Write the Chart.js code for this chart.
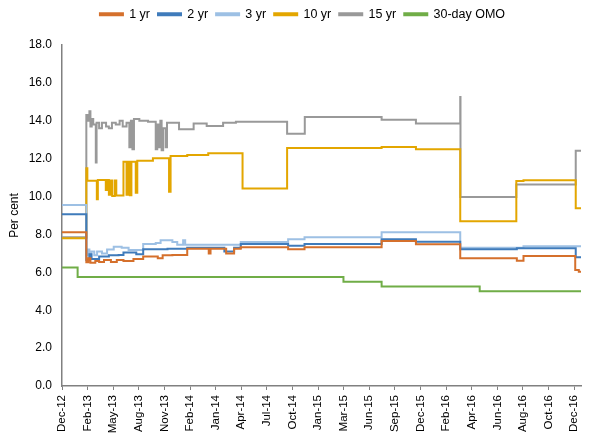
<!DOCTYPE html>
<html>
<head>
<meta charset="utf-8">
<script src="https://cdn.jsdelivr.net/npm/chart.js@4.4.1/dist/chart.umd.min.js"></script>
<style>
    html, body { margin: 0; padding: 0; background: #fff; }
    canvas { display: block; }
</style>
</head>
<body>
<canvas id="chart" width="593" height="445"></canvas>
<script>
// category labels shown on the x axis (one every tick)
const tickLabels = ['Dec-12', 'Feb-13', 'May-13', 'Aug-13', 'Nov-13', 'Feb-14', 'Jan-14', 'Apr-14', 'Jul-14', 'Oct-14',
    'Jan-15', 'Mar-15', 'Jun-15', 'Sep-15', 'Dec-15', 'Feb-16', 'Apr-16', 'Jun-16', 'Aug-16', 'Oct-16', 'Dec-16'];
const seriesNames = ['1 yr', '2 yr', '3 yr', '10 yr', '15 yr', '30-day OMO'];
const seriesColors = ['#d5702c', '#3f7bbb', '#9dc0e4', '#e3a600', '#999999', '#70ad47'];
const axisEnd = 20.27;

// [position along category axis, rate] - each value holds until the next point
const yr1 = [[0, 8.11], [0.95, 6.53], [1.03, 6.75], [1.11, 6.5], [1.30, 6.6], [1.45, 6.55], [1.64, 6.65], [1.91, 6.55],
    [2.14, 6.65], [2.40, 6.6], [2.79, 6.7], [3.17, 6.83], [3.74, 6.75], [3.93, 6.9], [4.31, 6.92], [4.89, 7.25],
    [5.73, 7.0], [5.80, 7.25], [6.41, 7.0], [6.72, 7.25], [6.98, 7.32], [8.83, 7.22], [9.47, 7.32], [12.48, 7.65],
    [13.82, 7.48], [15.55, 6.74], [17.76, 6.61], [18.02, 6.86], [20.04, 6.12], [20.18, 6.03], [axisEnd, 6.03]];
const yr2 = [[0, 9.06], [0.95, 6.65], [1.07, 6.95], [1.15, 6.7], [1.45, 6.83], [1.83, 6.9], [2.21, 6.92], [2.40, 7.05],
    [2.90, 6.95], [3.17, 7.22], [4.12, 7.25], [4.89, 7.3], [6.34, 7.1], [6.72, 7.3], [6.98, 7.5], [8.83, 7.4],
    [9.47, 7.5], [12.48, 7.75], [13.82, 7.62], [15.55, 7.22], [17.76, 7.27], [20.06, 6.79], [axisEnd, 6.79]];
const yr3 = [[0, 9.55], [0.95, 6.9], [1.01, 7.2], [1.07, 6.8], [1.15, 7.1], [1.26, 6.9], [1.37, 7.1], [1.56, 7.0],
    [1.76, 7.2], [2.02, 7.35], [2.33, 7.3], [2.60, 7.18], [3.17, 7.5], [3.66, 7.55], [3.85, 7.7], [4.31, 7.6],
    [4.50, 7.45], [4.73, 7.7], [4.81, 7.45], [6.98, 7.6], [8.83, 7.75], [9.47, 7.85], [12.48, 8.12], [15.55, 7.3],
    [18.02, 7.38], [axisEnd, 7.38]];
const yr10 = [[0, 7.8], [0.95, 11.5], [0.99, 10.84], [1.36, 9.86], [1.40, 10.87], [1.71, 10.35], [1.77, 10.87],
    [1.83, 10.1], [1.89, 10.85], [1.96, 10.03], [2.06, 10.85], [2.12, 10.05], [2.40, 11.84], [2.52, 10.1],
    [2.58, 11.84], [2.65, 10.07], [2.71, 11.84], [2.88, 10.2], [2.94, 11.89], [3.55, 12.02], [4.18, 10.26],
    [4.24, 12.14], [4.89, 12.2], [5.71, 12.28], [7.05, 10.43], [8.79, 12.56], [12.48, 12.62], [13.82, 12.5],
    [15.55, 8.7], [17.74, 10.82], [18.02, 10.86], [20.06, 9.38], [axisEnd, 9.38]];
const yr15 = [[0, 7.85], [0.95, 14.3], [1.01, 14.0], [1.07, 14.5], [1.11, 13.7], [1.16, 14.1], [1.22, 13.8],
    [1.32, 11.8], [1.35, 13.9], [1.45, 13.6], [1.56, 13.9], [1.72, 13.7], [1.83, 13.6], [1.95, 13.9], [2.10, 13.8],
    [2.25, 14.0], [2.37, 13.7], [2.52, 13.9], [2.63, 12.6], [2.69, 14.0], [2.75, 12.5], [2.81, 14.1], [3.02, 14.0],
    [3.36, 13.95], [3.66, 12.5], [3.72, 13.8], [3.78, 12.6], [3.84, 14.0], [3.89, 12.45], [3.95, 13.6], [4.05, 12.6],
    [4.10, 13.9], [4.57, 13.55], [5.14, 13.85], [5.65, 13.72], [6.29, 13.9], [6.79, 13.95], [8.79, 13.32],
    [9.48, 14.2], [12.48, 14.06], [13.82, 13.85], [15.55, 15.25], [15.56, 9.98], [17.74, 10.63], [20.06, 12.42],
    [axisEnd, 12.42]];
const omo = [[0, 6.25], [0.61, 5.75], [10.99, 5.5], [12.48, 5.25], [16.31, 5.0], [axisEnd, 5.0]];

const allSeries = [yr1, yr2, yr3, yr10, yr15, omo];

// extra room under the legend + small nudge to the right like the original
const legendTweak = {
    id: 'legendTweak',
    afterInit(chart) {
        const fit = chart.legend.fit;
        chart.legend.fit = function () {
            fit.call(this);
            this.height += 14.5;
        };
    },
    afterLayout(chart) {
        chart.legend.left += 12;
    }
};

const ctx = document.getElementById('chart').getContext('2d');
new Chart(ctx, {
    type: 'line',
    data: {
        datasets: allSeries.map((pts, i) => ({
            label: seriesNames[i],
            data: pts.map(p => ({ x: p[0], y: p[1] })),
            borderColor: seriesColors[i],
            backgroundColor: seriesColors[i],
            borderWidth: 2,
            pointRadius: 0,
            stepped: true,
            fill: false
        }))
    },
    options: {
        responsive: false,
        animation: false,
        layout: { padding: { top: 0, left: 0, right: 0, bottom: 0 } },
        plugins: {
            legend: {
                position: 'top',
                labels: {
                    boxWidth: 23,
                    boxHeight: 2,
                    padding: 8,
                    color: '#000',
                    font: { family: 'Liberation Sans, Arial, sans-serif', size: 12.5 }
                }
            },
            tooltip: { enabled: false }
        },
        scales: {
            x: {
                type: 'linear',
                min: 0,
                max: axisEnd,
                afterFit: (scale) => { scale.height = 59; },
                grid: { display: true, drawOnChartArea: false, drawTicks: true, tickLength: 4, color: '#808080' },
                border: { display: true, color: '#808080', width: 1.5 },
                ticks: {
                    stepSize: 1,
                    includeBounds: false,
                    autoSkip: false,
                    minRotation: 90,
                    maxRotation: 90,
                    padding: 5,
                    color: '#000',
                    font: { family: 'Liberation Sans, Arial, sans-serif', size: 11.5 },
                    callback: (v) => tickLabels[v]
                }
            },
            y: {
                min: 0,
                max: 18,
                afterFit: (scale) => { scale.width = 62; },
                grid: { display: false, drawTicks: false },
                border: { display: true, color: '#808080', width: 1.5 },
                title: {
                    display: true,
                    text: 'Per cent',
                    color: '#000',
                    padding: { top: 7, bottom: 0 },
                    font: { family: 'Liberation Sans, Arial, sans-serif', size: 12 }
                },
                ticks: {
                    stepSize: 2,
                    padding: 10,
                    color: '#000',
                    font: { family: 'Liberation Sans, Arial, sans-serif', size: 12 },
                    callback: (v) => v.toFixed(1)
                }
            }
        }
    },
    plugins: [legendTweak]
});
</script>
</body>
</html>
